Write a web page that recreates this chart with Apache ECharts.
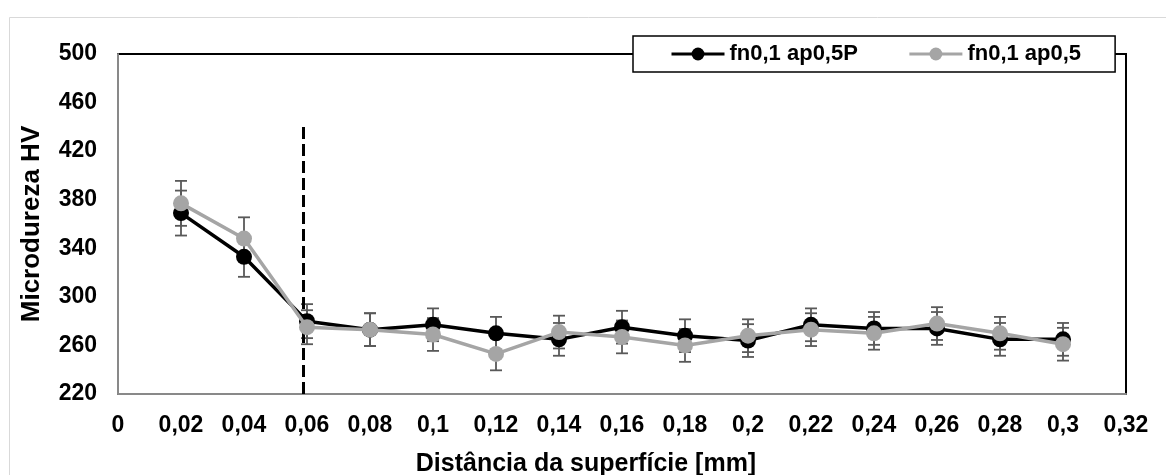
<html lang="pt">
<head>
    <meta charset="utf-8">
    <title>Microdureza HV</title>
    <script src="https://cdn.jsdelivr.net/npm/echarts@6/dist/echarts.min.js"></script>
</head>
<style>
    html, body { margin: 0; padding: 0; background: #fff; }
    #chart { width: 1166px; height: 475px; }
</style>
<body>
<div id="chart"></div>
<script>
    // distância [mm]
    var distances = [0.02, 0.04, 0.06, 0.08, 0.1, 0.12, 0.14, 0.16, 0.18, 0.2, 0.22, 0.24, 0.26, 0.28, 0.3];
    // fn0,1 ap0,5P
    var hvP = [369, 333, 280, 273, 277, 270, 265, 275, 268, 264, 277, 274, 274, 265, 265];
    var errP = [18.5, 16.5, 14, 13.5, 13.5, 13.5, 13.5, 13.5, 13.5, 13.5, 13.5, 13.5, 13.5, 13.5, 13.5];
    // fn0,1 ap0,5
    var hv = [377, 348, 275, 273, 269, 253, 271, 267, 260, 268, 273, 270, 278, 270, 261];
    var err = [18.5, 17.5, 14, 13.5, 13.5, 13.5, 13.5, 13.5, 13.5, 13.5, 13.5, 13.5, 13.5, 13.5, 13.5];
    var seriesNames = ['fn0,1 ap0,5P', 'fn0,1 ap0,5'];
    var xTitle = 'Distância da superfície [mm]';
    var yTitle = 'Microdureza HV';
    // linha tracejada
    var dashX = 0.0587;
    var dashTop = 444;

    var FONT = '"Liberation Sans", Arial, sans-serif';

    function pairs(ys) {
        var out = [];
        for (var i = 0; i < distances.length; i++) out.push([distances[i], ys[i]]);
        return out;
    }
    function errData(ys, es) {
        var out = [];
        for (var i = 0; i < distances.length; i++) out.push([distances[i], ys[i] - es[i], ys[i] + es[i]]);
        return out;
    }
    function renderErr(params, api) {
        var lo = api.coord([api.value(0), api.value(1)]);
        var hi = api.coord([api.value(0), api.value(2)]);
        var x = lo[0], w = 6;
        var st = { stroke: '#595959', lineWidth: 1.8 };
        return {
            type: 'group',
            children: [
                { type: 'line', shape: { x1: x, y1: lo[1], x2: x, y2: hi[1] }, style: st },
                { type: 'line', shape: { x1: x - w, y1: lo[1], x2: x + w, y2: lo[1] }, style: st },
                { type: 'line', shape: { x1: x - w, y1: hi[1], x2: x + w, y2: hi[1] }, style: st }
            ]
        };
    }

    var myChart = echarts.init(document.getElementById('chart'), null, { renderer: 'canvas' });
    var option = {
        animation: false,
        backgroundColor: '#fff',
        textStyle: { fontFamily: FONT },
        graphic: [{
            type: 'rect', left: 7, top: 15, z: -10,
            shape: { width: 1180, height: 480 },
            style: { fill: 'none', stroke: '#d9d9d9', lineWidth: 1 }
        }, {
            // título do eixo x centrado na área do gráfico
            type: 'text', x: 586, y: 464,
            style: {
                text: xTitle, align: 'center', verticalAlign: 'middle',
                font: 'bold 25px ' + FONT, fill: '#000'
            }
        }],
        grid: {
            left: 118, right: 40, top: 54, bottom: 81,
            show: true, borderColor: '#000', borderWidth: 2, backgroundColor: 'transparent'
        },
        legend: {
            data: seriesNames,
            left: 633, top: 36,
            padding: [7, 34, 7, 37],
            itemGap: 50,
            itemWidth: 53, itemHeight: 16,
            lineStyle: { width: 3 },
            backgroundColor: '#fff',
            borderColor: '#000', borderWidth: 1.5,
            textStyle: { fontFamily: FONT, fontWeight: 'bold', fontSize: 22, color: '#000' }
        },
        xAxis: {
            type: 'value', min: 0, max: 0.32, interval: 0.02,
            axisLine: { lineStyle: { color: '#898989', width: 2 } },
            axisTick: { show: false },
            splitLine: { show: false },
            axisLabel: {
                margin: 20, fontFamily: FONT, fontWeight: 'bold', fontSize: 23, color: '#000',
                formatter: function (v) { return String(Number(v.toFixed(2))).replace('.', ','); }
            }
        },
        yAxis: {
            type: 'value', min: 220, max: 500, interval: 40,
            name: yTitle,
            nameLocation: 'middle', nameGap: 73,
            nameTextStyle: { fontFamily: FONT, fontWeight: 'bold', fontSize: 26, color: '#000' },
            axisLine: { show: true, lineStyle: { color: '#898989', width: 2 } },
            axisTick: { show: false },
            splitLine: { show: false },
            axisLabel: { margin: 21, fontFamily: FONT, fontWeight: 'bold', fontSize: 23, color: '#000' }
        },
        series: [
            {
                name: seriesNames[0] + ' err', type: 'custom', renderItem: renderErr,
                data: errData(hvP, errP), z: 3, silent: true
            },
            {
                name: seriesNames[1] + ' err', type: 'custom', renderItem: renderErr,
                data: errData(hv, err), z: 3, silent: true
            },
            {
                name: seriesNames[0], type: 'line', data: pairs(hvP), z: 4,
                symbol: 'circle', symbolSize: 16,
                lineStyle: { color: '#000', width: 3.5 },
                itemStyle: { color: '#000' },
                markLine: {
                    silent: true, symbol: 'none', label: { show: false },
                    lineStyle: { color: '#000', width: 3, type: [12, 5] },
                    data: [[{ coord: [dashX, 220] }, { coord: [dashX, dashTop] }]]
                }
            },
            {
                name: seriesNames[1], type: 'line', data: pairs(hv), z: 5,
                symbol: 'circle', symbolSize: 16,
                lineStyle: { color: '#A5A5A5', width: 3.5 },
                itemStyle: { color: '#A5A5A5' }
            }
        ]
    };
    myChart.setOption(option);
</script>
</body>
</html>
